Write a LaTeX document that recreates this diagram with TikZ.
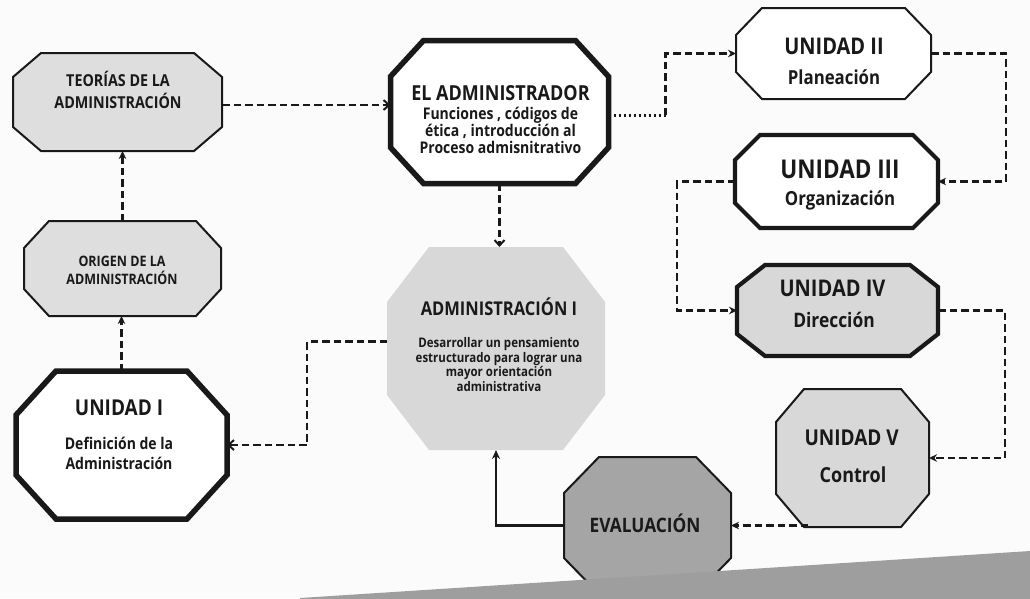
\documentclass[tikz,border=0pt]{standalone}
\usepackage{fontspec}
\setmainfont{Open Sans}
\usetikzlibrary{calc,arrows.meta}
\definecolor{fillA}{RGB}{222,222,222}
\definecolor{fillB}{RGB}{216,216,216}
\definecolor{evfill}{RGB}{165,165,165}
\definecolor{wedge}{RGB}{158,158,158}
\definecolor{ink}{RGB}{25,25,25}
\definecolor{paper}{RGB}{251,251,251}
\newcommand\octagon[4]{\path[#4] ($(#1.north west)+(#2pt,0pt)$) -- ($(#1.north east)+(-#2pt,0pt)$) -- ($(#1.north east)+(0pt,-#3pt)$) -- ($(#1.south east)+(0pt,#3pt)$) -- ($(#1.south east)+(-#2pt,0pt)$) -- ($(#1.south west)+(#2pt,0pt)$) -- ($(#1.south west)+(0pt,#3pt)$) -- ($(#1.north west)+(0pt,-#3pt)$) -- cycle;}
\newcommand\lbl[5]{\node[lbltext, font=#4] (#1) at (#2,#3) {\scalebox{1}[1.15]{#5}};}
\tikzset{
  frame/.style 2 args={inner sep=0pt, outer sep=0pt, minimum width=#1pt, minimum height=#2pt},
  lbltext/.style={anchor=base, inner sep=0pt, text=ink},
  thin/.style={draw=ink, line width=2pt, line join=miter},
  thick/.style={draw=ink, line width=5.5pt, line join=miter},
  medium/.style={draw=ink, line width=4.2pt, line join=miter},
  conn/.style={draw=ink, line width=2.6pt, dash pattern=on 7.5pt off 4pt, -{Stealth[length=8pt,width=7.5pt]}},
  openconn/.style={draw=ink, line width=2.6pt, dash pattern=on 7.5pt off 4pt, -{Straight Barb[length=5.5pt,width=10pt,line width=2pt]}},
  dotconn/.style={draw=ink, line width=3pt, dash pattern=on 2.4pt off 2.6pt},
  solidconn/.style={draw=ink, line width=2.4pt, -{Stealth[length=9pt,width=8pt]}},
}
\begin{document}
\begin{tikzpicture}[x=1pt,y=-1pt]
\useasboundingbox (0,0) rectangle (1030,598);
\clip (0,0) rectangle (1030,598);
\fill[paper] (0,0) rectangle (1030,598);

% frames
\node[frame={209}{98}] (teo) at (117.5,102) {};
\node[frame={197}{95}] (ori) at (122.5,268.5) {};
\node[frame={211}{148}] (u1) at (121.5,445) {};
\node[frame={218}{143}] (adm) at (499.5,112) {};
\node[frame={218}{203}] (ad1) at (496,348.5) {};
\node[frame={195}{91}] (u2) at (833.5,53.5) {};
\node[frame={203}{93}] (u3) at (836.5,181.5) {};
\node[frame={201}{91}] (u4) at (837.5,310.5) {};
\node[frame={153}{138}] (u5) at (852.5,458) {};
\node[frame={167}{137}] (ev) at (647.5,525.5) {};

\octagon{teo}{28}{24}{thin, fill=fillA}
\octagon{ori}{25}{27}{thin, fill=fillA}
\octagon{u1}{40}{44}{thick, fill=white}
\octagon{adm}{33}{36}{thick, fill=white}
\octagon{ad1}{42}{55}{fill=fillB}
\octagon{u2}{26}{27}{thin, fill=white}
\octagon{u3}{25}{25}{medium, fill=white}
\octagon{u4}{28}{22}{medium, fill=fillB}
\octagon{u5}{28}{33}{thin, fill=fillB}
\octagon{ev}{35}{36}{thin, fill=evfill}

% bottom wedge
\fill[wedge] (300,598) -- (1030,551) -- (1030,600) -- (300,600) -- cycle;

% texts
\lbl{teo1}{118}{86.7}{\bfseries\fontsize{14.3}{16}\selectfont}{TEORÍAS DE LA}
\lbl{teo2}{118}{108.3}{\bfseries\fontsize{14.3}{16}\selectfont}{ADMINISTRACIÓN}
\lbl{ori1}{122}{266}{\bfseries\fontsize{12.5}{14}\selectfont}{ORIGEN DE LA}
\lbl{ori2}{122}{284.3}{\bfseries\fontsize{12.5}{14}\selectfont}{ADMINISTRACIÓN}
\lbl{u1t}{119}{415}{\bfseries\fontsize{19}{22}\selectfont}{UNIDAD I}
\lbl{u1a}{119}{449.5}{\bfseries\fontsize{14}{16}\selectfont}{Definición de la}
\lbl{u1b}{119}{469.5}{\bfseries\fontsize{14}{16}\selectfont}{Administración}
\lbl{admt}{500.5}{100.4}{\bfseries\fontsize{18}{21}\selectfont}{EL ADMINISTRADOR}
\lbl{adma}{500.5}{119.5}{\bfseries\fontsize{14}{16}\selectfont}{Funciones , códigos de}
\lbl{admb}{500.5}{136.5}{\bfseries\fontsize{14}{16}\selectfont}{ética , introducción al}
\lbl{admc}{500.5}{153}{\bfseries\fontsize{14}{16}\selectfont}{Proceso admisnitrativo}
\lbl{ad1t}{499}{315}{\bfseries\fontsize{16.5}{19}\selectfont}{ADMINISTRACIÓN I}
\lbl{ad1a}{499}{347.5}{\bfseries\fontsize{11.5}{13}\selectfont}{Desarrollar un pensamiento}
\lbl{ad1b}{499}{362}{\bfseries\fontsize{11.5}{13}\selectfont}{estructurado para lograr una}
\lbl{ad1c}{499}{376.5}{\bfseries\fontsize{11.5}{13}\selectfont}{mayor orientación}
\lbl{ad1d}{499}{391}{\bfseries\fontsize{11.5}{13}\selectfont}{administrativa}
\lbl{u2t}{834}{54}{\bfseries\fontsize{20}{23}\selectfont}{UNIDAD II}
\lbl{u2a}{834}{84.5}{\bfseries\fontsize{16.8}{19}\selectfont}{Planeación}
\lbl{u3t}{840}{178}{\bfseries\fontsize{22.5}{26}\selectfont}{UNIDAD III}
\lbl{u3a}{840}{205}{\bfseries\fontsize{16.8}{19}\selectfont}{Organización}
\lbl{u4t}{832.5}{296}{\bfseries\fontsize{20}{23}\selectfont}{UNIDAD IV}
\lbl{u4a}{834}{327.5}{\bfseries\fontsize{17.4}{20}\selectfont}{Dirección}
\lbl{u5t}{851.7}{445}{\bfseries\fontsize{19}{22}\selectfont}{UNIDAD V}
\lbl{u5a}{853}{482.5}{\bfseries\fontsize{18}{21}\selectfont}{Control}
\lbl{evt}{645}{532}{\bfseries\fontsize{17.3}{20}\selectfont}{EVALUACIÓN}

% connectors
\draw[conn] (ori.north) -- (ori.north |- teo.south);
\draw[conn] (u1.north) -- (u1.north |- ori.south);
\draw[openconn] (teo.east |- 0,105) -- (adm.west |- 0,105);
\draw[dotconn] (adm.east |- 0,115) -- ++(57,0) coordinate (k1);
\draw[conn] (k1) |- (u2.west);
\draw[conn] (u2.east) -- ++(75,0) |- (u3.east);
\draw[conn] (u3.west) -- ++(-58,0) |- (u4.west);
\draw[conn] (u4.east) -- ++(67,0) |- (u5.east);
\draw[conn] ([xshift=32pt]ev.east -| u5.south west) -- (ev.east);
\draw[solidconn] (ev.west) -| (ad1.south);
\draw[openconn] ([yshift=7pt]ad1.west) -- ++(-80,0) |- (u1.east);
\draw[openconn] (adm.south) -- (adm.south |- ad1.north);
\end{tikzpicture}
\end{document}
